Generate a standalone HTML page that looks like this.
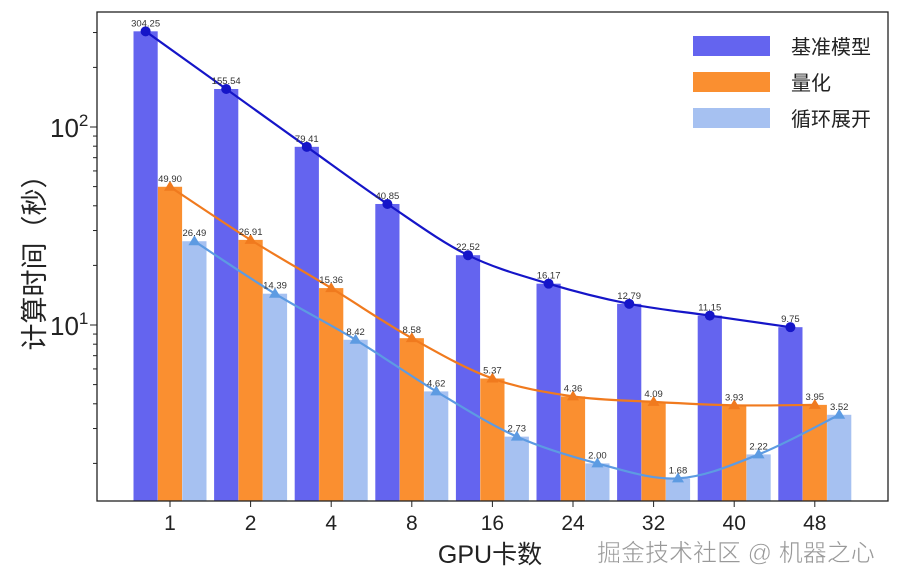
<!DOCTYPE html>
<html><head><meta charset="utf-8"><style>
body{margin:0;background:#fff;}
svg{display:block;font-family:"Liberation Sans","Noto Sans CJK SC",sans-serif;}
</style></head><body>
<svg id="s" width="900" height="586" xmlns="http://www.w3.org/2000/svg"></svg>
<script>
const s=document.getElementById('s');
const L=97,T=12,R=888,B=501;
const y=v=>325-(Math.log10(v)-1)*198;
const xs=i=>170+i*80.6;
const labs=["1","2","4","8","16","24","32","40","48"];
const A=[304.25,155.54,79.41,40.85,22.52,16.17,12.79,11.15,9.75];
const Bq=[49.90,26.91,15.36,8.58,5.37,4.36,4.09,3.93,3.95];
const C=[26.49,14.39,8.42,4.62,2.73,2.00,1.68,2.22,3.52];
let h='';
const bw=24.2;
const ser=[[A,-24.4,'#6464ef','#1515c8'],[Bq,0,'#fa8f30','#f07a1e'],[C,24.4,'#a6c1f1','#5d9be2']];
ser.forEach(([d,off,bc])=>{d.forEach((v,i)=>{const cx=xs(i)+off;h+=`<rect x="${cx-bw/2}" y="${y(v)}" width="${bw}" height="${B-y(v)}" fill="${bc}"/>`;});});
function smooth(pts){let p=`M${pts[0][0]},${pts[0][1]}`;for(let i=0;i<pts.length-1;i++){const p0=pts[i-1]||pts[i],p1=pts[i],p2=pts[i+1],p3=pts[i+2]||p2;p+=` C${p1[0]+(p2[0]-p0[0])/6},${p1[1]+(p2[1]-p0[1])/6} ${p2[0]-(p3[0]-p1[0])/6},${p2[1]-(p3[1]-p1[1])/6} ${p2[0]},${p2[1]}`;}return p;}
ser.forEach(([d,off,bc,lc],k)=>{const pts=d.map((v,i)=>[xs(i)+off,y(v)]);h+=`<path d="${smooth(pts)}" fill="none" stroke="${lc}" stroke-width="2.2"/>`;
pts.forEach(([px,py],i)=>{if(k==0)h+=`<circle cx="${px}" cy="${py}" r="5" fill="${lc}"/>`;else h+=`<polygon points="${px},${py-6} ${px-6},${py+4} ${px+6},${py+4}" fill="${lc}"/>`;
h+=`<text x="${px}" y="${py-5}" font-size="9.5" fill="#333" text-anchor="middle">${d[i].toFixed(2)}</text>`;});});
h+=`<rect x="${L}" y="${T}" width="${R-L}" height="${B-T}" fill="none" stroke="#222" stroke-width="1.3"/>`;
for(let e=0;e<=2;e++)for(let m=1;m<10;m++){const v=m*Math.pow(10,e);const yy=y(v);if(yy<T||yy>B)continue;const len=m==1?7:4;h+=`<line x1="${L-len}" x2="${L}" y1="${yy}" y2="${yy}" stroke="#222" stroke-width="1"/>`;}
h+=`<text x="50" y="${y(100)+10}" font-size="26" fill="#222">10<tspan dy="-11" font-size="17">2</tspan></text>`;
h+=`<text x="50" y="${y(10)+10}" font-size="26" fill="#222">10<tspan dy="-11" font-size="17">1</tspan></text>`;
labs.forEach((l,i)=>{h+=`<line x1="${xs(i)}" x2="${xs(i)}" y1="${B}" y2="${B+6}" stroke="#222"/><text x="${xs(i)}" y="${B+29}" font-size="21" text-anchor="middle" fill="#222">${l}</text>`;});
h+=`<text transform="translate(44,256) rotate(-90)" font-size="27" text-anchor="middle" fill="#222">计算时间（秒）</text>`;
h+=`<text x="490" y="563" font-size="25" text-anchor="middle" fill="#222">GPU卡数</text>`;
[['#6464ef','基准模型'],['#fa8f30','量化'],['#a6c1f1','循环展开']].forEach(([c,t],i)=>{const yy=46+i*36;h+=`<rect x="693" y="${yy-10}" width="77" height="20" fill="${c}"/><text x="791" y="${yy+8}" font-size="20" fill="#222">${t}</text>`;});
h+=`<text x="597" y="561" font-size="24" fill="#999" stroke="#fff" stroke-width="0.5">掘金技术社区 @ 机器之心</text>`;
s.innerHTML=h;
</script>
</body></html>
